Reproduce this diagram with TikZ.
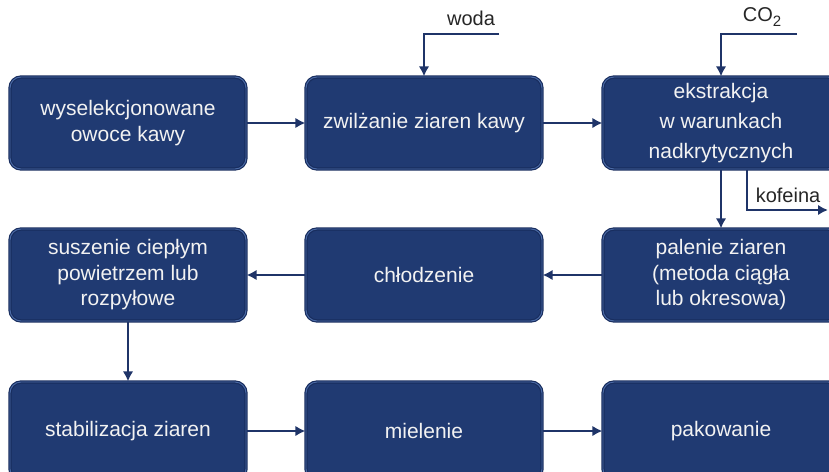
\documentclass[tikz,border=0pt]{standalone}
\usepackage{fontspec}
\setmainfont{Liberation Sans}
\usetikzlibrary{arrows.meta, positioning}
\definecolor{boxnavy}{HTML}{203A72}
\definecolor{rimnavy}{HTML}{182D5E}
\definecolor{rimlight}{HTML}{4C6CA8}
\definecolor{flownavy}{HTML}{1F3468}
\definecolor{boxtext}{HTML}{F2F2F2}

\tikzset{
  stepbox/.style={draw=rimnavy, line width=1.2pt, double=rimlight, double distance=0.9pt,
    fill=boxnavy, rounded corners=11pt, minimum width=236pt, minimum height=92pt,
    align=center, text=boxtext, font=\fontsize{21}{25.5}\selectfont},
  flow/.style={-{Latex[length=10pt,width=10.5pt]}, line width=2.8pt, flownavy},
  sidelabel/.style={font=\fontsize{20}{24}\selectfont, text=black!85}
}

\begin{document}
\begin{tikzpicture}[x=1pt,y=-1pt]
    \useasboundingbox (0,0) rectangle (829,471);
    \clip (0,0) rectangle (829,471);
    % row 1
    \node[stepbox] (owoce) at (128,123) {wyselekcjonowane\\owoce kawy};
    \node[stepbox] (zwilz) at (424,123) {zwilżanie ziaren kawy};
    \node[stepbox,font=\fontsize{21}{30}\selectfont] (ekstr) at (721,123) {ekstrakcja\\w warunkach\\nadkrytycznych};
    % row 2
    \node[stepbox] (susz) at (128,275) {suszenie ciepłym\\powietrzem lub\\rozpyłowe};
    \node[stepbox] (chlodz) at (424,275) {chłodzenie};
    \node[stepbox] (palen) at (721,275) {palenie ziaren\\(metoda ciągła\\lub okresowa)};
    % row 3
    \node[stepbox,minimum height=98pt] (stab) at (128,431) {stabilizacja ziaren};
    \node[stepbox,minimum height=98pt] (miel) at (424,431) {mielenie};
    \node[stepbox,minimum height=98pt] (pakow) at (721,431) {pakowanie};
    % inputs and outputs
    \node[sidelabel] (woda) at (471,18) {woda};
    \node[sidelabel] (co) at (762,17) {CO\raisebox{-5pt}{\fontsize{15}{15}\selectfont 2}};
    \node[sidelabel] (kofeina) at (788,195) {kofeina};
    \coordinate (wodaIn) at (499,34);
    \coordinate (coIn) at (797,34);
    \coordinate (kofOut) at (828,210);
    \draw[flow] (wodaIn) -| (zwilz.north);
    \draw[flow] (coIn) -| (ekstr.north);
    \draw[flow] ([xshift=26pt]ekstr.south) |- (kofOut);
    % process flow
    \draw[flow] (owoce) -- (zwilz);
    \draw[flow] (zwilz) -- (ekstr);
    \draw[flow] (ekstr) -- (palen);
    \draw[flow] (palen) -- (chlodz);
    \draw[flow] (chlodz) -- (susz);
    \draw[flow] (susz) -- (stab);
    \draw[flow] (stab) -- (miel);
    \draw[flow] (miel) -- (pakow);
  \end{tikzpicture}
\end{document}
